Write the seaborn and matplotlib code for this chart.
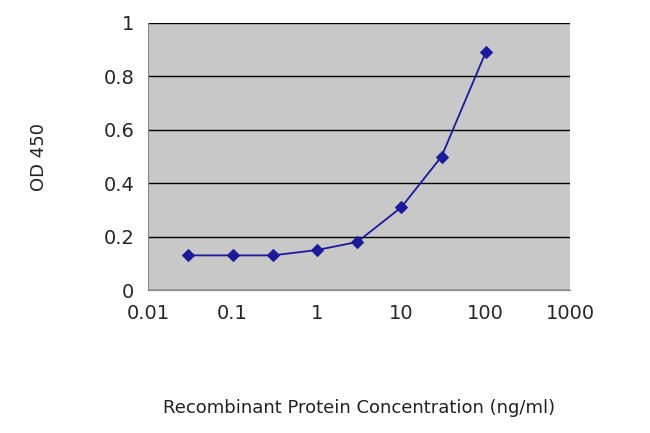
import matplotlib
matplotlib.use("Agg")
import matplotlib.pyplot as plt
import seaborn as sns
import pandas as pd

conc = [0.03, 0.1, 0.3, 1, 3, 10, 30, 100]
od = [0.13, 0.13, 0.13, 0.15, 0.18, 0.31, 0.50, 0.89]
xticks = [0.01, 0.1, 1, 10, 100, 1000]
xlabels = ["0.01", "0.1", "1", "10", "100", "1000"]
yticks = [0, 0.2, 0.4, 0.6, 0.8, 1]
ylabels = ["0", "0.2", "0.4", "0.6", "0.8", "1"]

sns.set_style("white")
plt.rcParams['font.family'] = ['DejaVu Sans']
fig = plt.figure(figsize=(6.5, 4.33), dpi=100)
ax = fig.add_axes([0.228, 0.330, 0.649, 0.617])
ax.set_facecolor("#c8c8c8")
df = pd.DataFrame({"x": conc, "y": od})
sns.lineplot(data=df, x="x", y="y", ax=ax, color="#1a1a9a", marker="D",
             markersize=6, markeredgecolor="#1a1a9a", linewidth=1.3)
ax.set_xscale("log")
ax.set_xlim(0.01, 1000)
ax.set_ylim(0, 1)
ax.set_xticks(xticks)
ax.set_xticklabels(xlabels, fontsize=14)
ax.set_yticks(yticks)
ax.set_yticklabels(ylabels, fontsize=14)
ax.minorticks_off()
ax.yaxis.grid(True, color="black", linewidth=1)
ax.set_axisbelow(True)
for s in ["top", "right"]:
    ax.spines[s].set_visible(False)
for s in ["left", "bottom"]:
    ax.spines[s].set_color("#888888")
ax.tick_params(length=0, pad=10)
ax.set_xlabel("Recombinant Protein Concentration (ng/ml)", fontsize=13, labelpad=55, color="#222222")
ax.set_ylabel("OD 450", fontsize=13, labelpad=40, color="#222222")
fig.savefig("out.png", dpi=100)
